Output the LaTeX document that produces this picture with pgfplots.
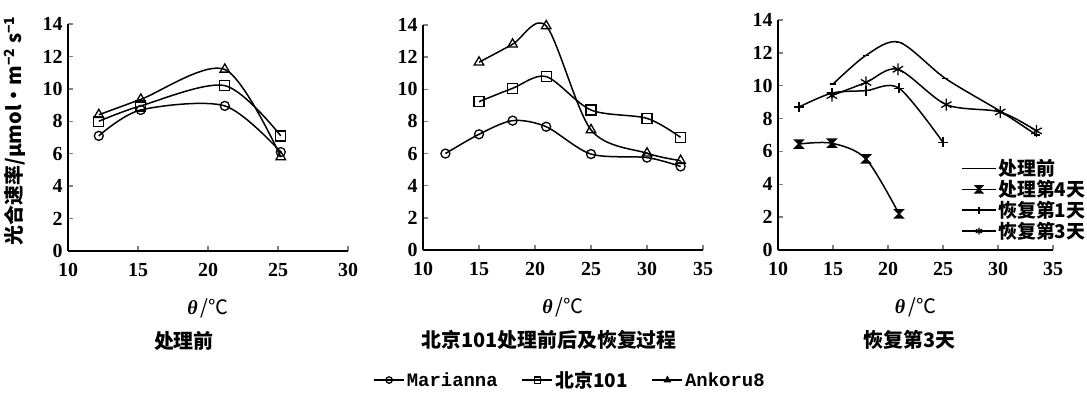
\documentclass[border=0pt]{standalone}
\usepackage{pgfplots}
\pgfplotsset{compat=1.18}
\usepackage{fontspec}
\setmainfont{Liberation Serif}
\newfontfamily\cjk{Noto Sans CJK SC}
\newfontfamily\monof{Liberation Mono}
\usetikzlibrary{plotmarks}
\pgfdeclareplotmark{hourglass}{%
 \pgfpathmoveto{\pgfqpoint{-\pgfplotmarksize}{\pgfplotmarksize}}%
 \pgfpathlineto{\pgfqpoint{\pgfplotmarksize}{\pgfplotmarksize}}%
 \pgfpathlineto{\pgfqpoint{-\pgfplotmarksize}{-\pgfplotmarksize}}%
 \pgfpathlineto{\pgfqpoint{\pgfplotmarksize}{-\pgfplotmarksize}}%
 \pgfpathclose
 \pgfusepathqfillstroke}
\pgfplotsset{
  base/.style={
    scale only axis,
    axis lines=left,
    axis line style={-, line width=1.6bp},
    major tick style={line width=1.4bp},
    major tick length=5bp,
    tick align=inside,
    clip=false,
    cycle list={{black}},
    ymin=0, ymax=14, ytick={0,2,...,14},
    /pgf/number format/assume math mode=true,
    tick label style={font=\fontsize{20}{24}\selectfont\bfseries},
    xticklabel style={yshift=-9bp},
    yticklabel style={xshift=-2bp},
    xlabel={\textbf{\textit{θ}}\,{\cjk /℃}},
    xlabel style={at={(axis description cs:0.5,0)}, anchor=center, yshift=-57bp, font=\fontsize{20}{24}\selectfont},
    title style={anchor=center, yshift=-96bp, font=\fontsize{20}{24}\selectfont\cjk\bfseries},
    ser/.style={black, line width=1.5bp, smooth, tension=0.5, mark options={solid, fill=white, line width=1.3bp}},
    legend image code/.code={\draw[mark repeat=2,mark phase=2,#1] plot coordinates {(0bp,0bp) (15bp,0bp) (30bp,0bp)};},
  },
  sc/.style={ser, mark=o, mark size=4.5bp},
  sq/.style={ser, mark=square, mark size=5bp},
  tr/.style={ser, mark=triangle, mark size=5.5bp},
}
\begin{document}
\begin{tikzpicture}[x=1bp,y=1bp]
\useasboundingbox (0,0) rectangle (1087,393);
% Panel 1
\begin{axis}[base, at={(68bp,142bp)}, anchor=south west, width=280bp, height=227bp,
  xmin=10, xmax=30, xtick={10,15,...,30},
  title={处理前}, title style={at={(axis description cs:0.414,0)}},
  ylabel={\cjk\bfseries 光合速率/μmol·m\textsuperscript{−2} s\textsuperscript{−1}},
  ylabel style={at={(axis description cs:-0.19,0.53)}, anchor=center, font=\fontsize{20}{24}\selectfont}]
\addplot[sc] coordinates {(12.2,7.1) (15.2,8.7) (21.2,8.95) (25.2,6.1)};
\addplot[sq] coordinates {(12.2,8.0) (15.2,8.95) (21.2,10.2) (25.2,7.1)};
\addplot[tr] coordinates {(12.2,8.4) (15.2,9.35) (21.2,11.2) (25.2,5.8)};
\end{axis}
% Panel 2
\begin{axis}[base, at={(423bp,143bp)}, anchor=south west, width=280bp, height=225bp,
  xmin=10, xmax=35, xtick={10,15,...,35},
  title={北京101处理前后及恢复过程}, title style={at={(axis description cs:0.45,0)}},
  legend columns=3,
  legend style={at={(axis description cs:0.525,-0.578)}, anchor=center, draw=none, fill=none,
    font=\fontsize{19}{22}\selectfont\bfseries, /tikz/every even column/.append style={column sep=22bp}},
  legend image post style={mark size=3.2bp}]
\addplot[sc] coordinates {(12,6.0) (15,7.2) (18,8.05) (21,7.67) (25,5.97) (30,5.75) (33,5.2)};
\addlegendentry{\monof\bfseries Marianna}
\addplot[sq] coordinates {(15,9.23) (18,10.06) (21,10.79) (25,8.71) (30,8.19) (33,7.01)};
\addlegendentry{\cjk\bfseries 北京101}
\addplot[tr] coordinates {(15,11.68) (18,12.8) (21,13.94) (25,7.47) (30,6.02) (33,5.56)};
\addlegendentry{\monof\bfseries Ankoru8}
\end{axis}
% Panel 3
\begin{axis}[base, at={(778bp,143bp)}, anchor=south west, width=275bp, height=230bp,
  xmin=10, xmax=35, xtick={10,15,...,35},
  title={恢复第3天}, title style={at={(axis description cs:0.478,0)}},
  legend cell align=left,
  legend style={at={(axis description cs:1.124,0.40)}, anchor=north east, draw=none, fill=none,
    font=\fontsize{19}{20}\selectfont\cjk\bfseries, row sep=0bp, inner sep=0bp,
    nodes={inner sep=1.5bp}},
  legend image code/.code={\draw[mark repeat=2,mark phase=2,#1] plot coordinates {(0bp,0bp) (17bp,0bp) (34bp,0bp)};},
  legend image post style={mark size=3.5bp}]
\addplot[ser, mark=-, mark size=3bp] coordinates {(15,10.1) (18,11.85) (21,12.65) (25.2,10.45) (30.2,8.45) (33.5,7.0)};
\addlegendentry{处理前}
\addplot[ser, mark=hourglass, mark size=4bp, mark options={fill=black}] coordinates {(11.9,6.45) (14.9,6.5) (18,5.54) (21,2.2)};
\addlegendentry{处理第4天}
\addplot[ser, mark=+, mark size=5bp] coordinates {(11.9,8.7) (14.9,9.55) (18,9.7) (21,9.85) (25,6.55)};
\addlegendentry{恢复第1天}
\addplot[ser, mark=asterisk, mark size=6bp] coordinates {(14.9,9.4) (18,10.2) (20.9,11.0) (25.3,8.85) (30.2,8.4) (33.5,7.25)};
\addlegendentry{恢复第3天}
\end{axis}
\end{tikzpicture}
\end{document}
